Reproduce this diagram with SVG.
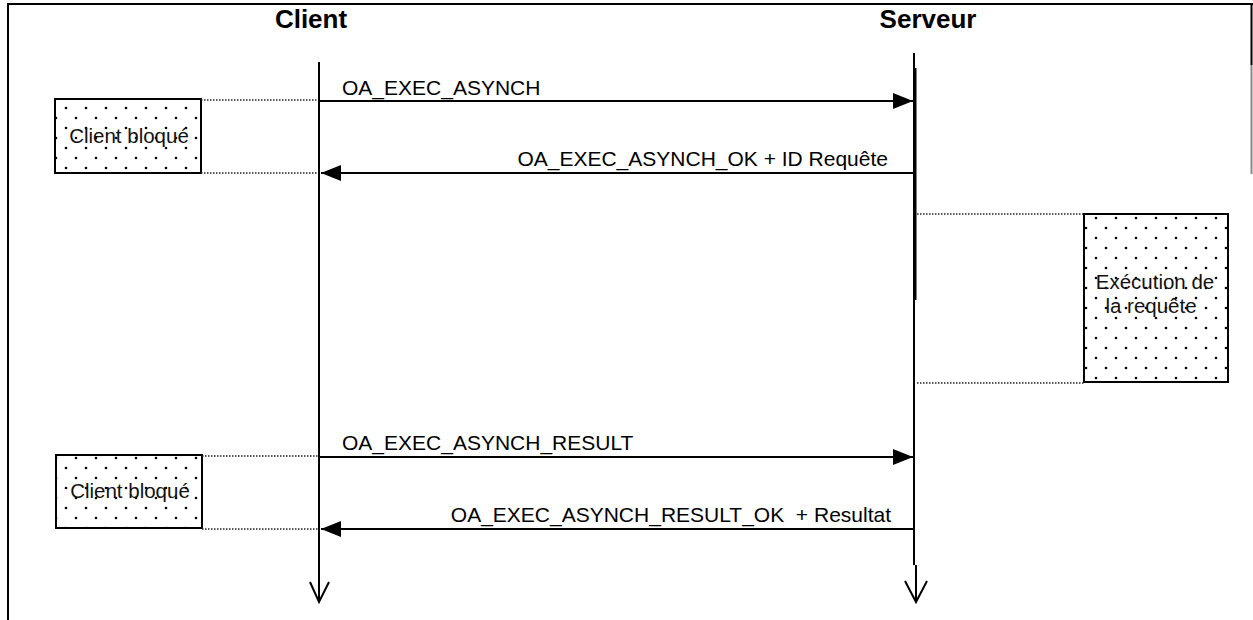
<svg xmlns="http://www.w3.org/2000/svg" width="1253" height="620" viewBox="0 0 1253 620">
<style>
.title{font-family:"Liberation Sans",Arial,sans-serif;font-weight:bold;font-size:26px;fill:#000}
.lbl{font-family:"Liberation Sans",Arial,sans-serif;font-size:21px;fill:#000}
.box{fill:url(#dots);stroke:#000;stroke-width:2}
.btxt{font-family:"Liberation Sans",Arial,sans-serif;font-size:20.5px;fill:#111}
.life{stroke:#000;stroke-width:2;fill:none}
.msg{stroke:#000;stroke-width:2;fill:none}
.dot{stroke:#222;stroke-width:1.5;stroke-dasharray:1.5 1.5;fill:none}
</style>
<defs>
<pattern id="dots" x="0" y="0" width="20" height="20" patternUnits="userSpaceOnUse">
<rect width="20" height="20" fill="#fff"/>
<circle cx="6" cy="8" r="1.3" fill="#000"/>
<circle cx="16" cy="18" r="1.3" fill="#000"/>
</pattern>
<marker id="ah" viewBox="0 0 20 16" refX="20" refY="8" markerWidth="20" markerHeight="16" markerUnits="userSpaceOnUse" orient="auto">
<path d="M0,0 L20,8 L0,16 Z" fill="#000"/>
</marker>
</defs>
<g id="frame">
<line x1="7" y1="4" x2="1253" y2="4" stroke="#000" stroke-width="2"/>
<line x1="8" y1="3" x2="8" y2="620" stroke="#000" stroke-width="2"/>
<line x1="1251.5" y1="5" x2="1251.5" y2="65" stroke="#000" stroke-width="2"/>
<line x1="1251.5" y1="65" x2="1251.5" y2="174" stroke="#888" stroke-width="2"/>
</g>
<g id="client">
<text class="title" x="311" y="28" text-anchor="middle">Client</text>
<line class="life" x1="319" y1="62" x2="319" y2="602"/>
<path class="life" d="M310,582 L319,602 L329,582"/>
</g>
<g id="serveur">
<text class="title" x="928" y="28" text-anchor="middle">Serveur</text>
<line class="life" x1="914" y1="53" x2="914" y2="565"/>
<line x1="915" y1="68" x2="915" y2="300" stroke="#000" stroke-width="3"/>
<line class="life" x1="916" y1="565" x2="916" y2="602"/>
<path class="life" d="M905,581 L916,602 L927,581"/>
</g>
<g id="bloque1">
<rect class="box" x="55" y="99" width="146" height="74"/>
<text class="btxt" x="129" y="143" text-anchor="middle">Client bloqué</text>
</g>
<g id="bloque2">
<rect class="box" x="56" y="455" width="146" height="73"/>
<text class="btxt" x="130" y="498" text-anchor="middle">Client bloqué</text>
</g>
<g id="execution">
<rect class="box" x="1084" y="214" width="144" height="168"/>
<text class="btxt" x="1155" y="289" text-anchor="middle">Exécution de</text>
<text class="btxt" x="1151" y="313" text-anchor="middle">la requête</text>
</g>
<g id="connectors">
<line class="dot" x1="201" y1="100" x2="318" y2="100"/>
<line class="dot" x1="201" y1="173" x2="318" y2="173"/>
<line class="dot" x1="202" y1="456" x2="318" y2="456"/>
<line class="dot" x1="202" y1="529" x2="318" y2="529"/>
<line class="dot" x1="917" y1="214" x2="1084" y2="214"/>
<line class="dot" x1="917" y1="383" x2="1084" y2="383"/>
<line class="msg" x1="319" y1="101" x2="913" y2="101" marker-end="url(#ah)"/>
<text class="lbl" x="342" y="95">OA_EXEC_ASYNCH</text>
<line class="msg" x1="914" y1="173" x2="321" y2="173" marker-end="url(#ah)"/>
<text class="lbl" x="888" y="166" text-anchor="end">OA_EXEC_ASYNCH_OK + ID Requête</text>
<line class="msg" x1="319" y1="457" x2="913" y2="457" marker-end="url(#ah)"/>
<text class="lbl" x="342" y="450">OA_EXEC_ASYNCH_RESULT</text>
<line class="msg" x1="914" y1="529" x2="321" y2="529" marker-end="url(#ah)"/>
<text class="lbl" x="891" y="522" text-anchor="end" xml:space="preserve">OA_EXEC_ASYNCH_RESULT_OK  + Resultat</text>
</g>
</svg>
